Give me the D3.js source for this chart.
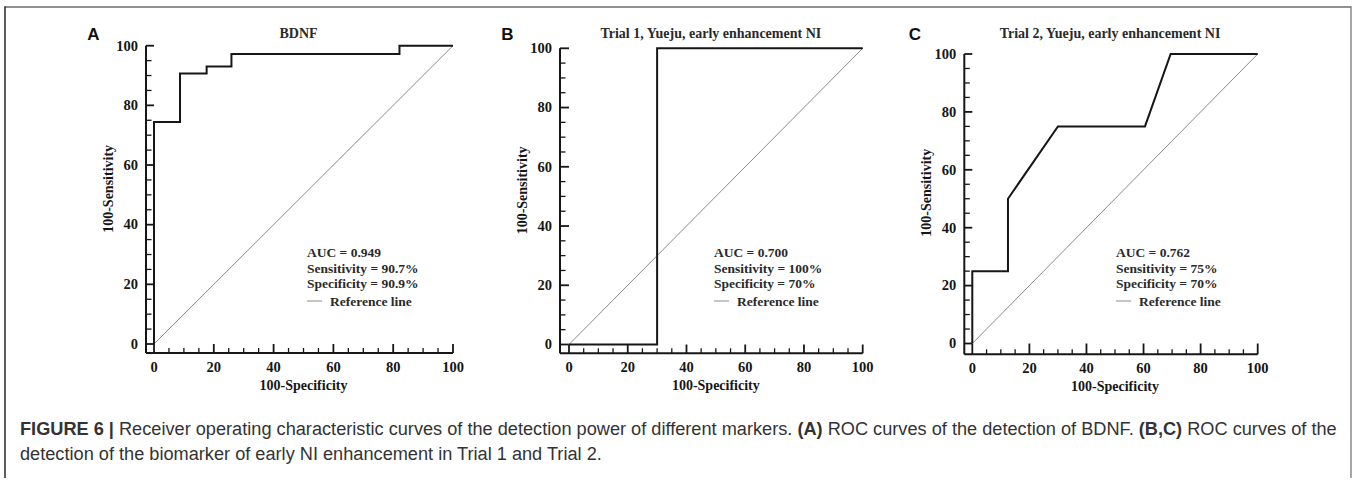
<!DOCTYPE html>
<html><head><meta charset="utf-8">
<script src="https://cdn.jsdelivr.net/npm/d3@7"></script>
<style>
html,body{margin:0;padding:0;background:#fff;}
svg{display:block;}
</style></head>
<body>
<svg id="chart" width="1357" height="484"></svg>
<script>
// ---------- data ----------
const panelLetters = ["A", "B", "C"];
const panelTitles = ["BDNF", "Trial 1, Yueju, early enhancement NI", "Trial 2, Yueju, early enhancement NI"];
const rocA_x = [0, 0, 8.7, 8.7, 17.6, 17.6, 25.9, 25.9, 82.1, 82.1, 100];
const rocA_y = [0, 74.4, 74.4, 90.7, 90.7, 93.0, 93.0, 97.2, 97.2, 100, 100];
const rocB_x = [0, 30, 30, 100];
const rocB_y = [0, 0, 100, 100];
const rocC_x = [0, 0, 12.5, 12.5, 30, 60.5, 69.5, 100];
const rocC_y = [0, 25, 25, 50, 75, 75, 100, 100];
const refLine_x = [0, 100];
const refLine_y = [0, 100];
const majorTicks = [0, 20, 40, 60, 80, 100];
const minorTicks = [0, 5, 10, 15, 20, 25, 30, 35, 40, 45, 50, 55, 60, 65, 70, 75, 80, 85, 90, 95, 100];
const aucLabels = ["AUC = 0.949", "AUC = 0.700", "AUC = 0.762"];
const sensLabels = ["Sensitivity = 90.7%", "Sensitivity = 100%", "Sensitivity = 75%"];
const specLabels = ["Specificity = 90.9%", "Specificity = 70%", "Specificity = 70%"];
const refLabel = "Reference line";
const xTitle = "100-Specificity";
const yTitle = "100-Sensitivity";

// ---------- layout (pixels) ----------
const layout = [
  {axisX: 146, x0: 154, x1: 453, y1: 45.7, y0: 344, axisY: 353, legX: 307},
  {axisX: 560, x0: 569, x1: 862.7, y1: 48.3, y0: 344.5, axisY: 353.3, legX: 714},
  {axisX: 964.3, x0: 972.3, x1: 1257.7, y1: 54, y0: 343.5, axisY: 354.3, legX: 1116}
];
const curves = [[rocA_x, rocA_y], [rocB_x, rocB_y], [rocC_x, rocC_y]];

const svg = d3.select("#chart");
const serif = "'Liberation Serif', 'Times New Roman', serif";
const sans = "'Liberation Sans', Arial, Helvetica, sans-serif";
const ink = "#161616";

// outer frame (no bottom edge)
svg.append("line").attr("x1", 5).attr("y1", 7).attr("x2", 1351).attr("y2", 7).attr("stroke", "#6a6a6a").attr("stroke-width", 1.5);
svg.append("line").attr("x1", 5).attr("y1", 6.3).attr("x2", 5).attr("y2", 478).attr("stroke", "#333").attr("stroke-width", 1.6);
svg.append("line").attr("x1", 1351).attr("y1", 6.3).attr("x2", 1351).attr("y2", 478).attr("stroke", "#777").attr("stroke-width", 1.3);

layout.forEach((L, i) => {
  const g = svg.append("g");
  const x = d3.scaleLinear().domain([0, 100]).range([L.x0, L.x1]);
  const y = d3.scaleLinear().domain([0, 100]).range([L.y0, L.y1]);

  // axis lines
  g.append("line").attr("x1", L.axisX).attr("x2", L.axisX).attr("y1", y(100)).attr("y2", L.axisY)
    .attr("stroke", ink).attr("stroke-width", 2);
  g.append("line").attr("x1", L.axisX).attr("x2", x(100)).attr("y1", L.axisY).attr("y2", L.axisY)
    .attr("stroke", ink).attr("stroke-width", 2);

  // y ticks (pointing right, inside)
  g.selectAll(".ytm").data(minorTicks).join("line")
    .attr("x1", L.axisX).attr("x2", d => L.axisX + (majorTicks.includes(d) ? (L.x0 - L.axisX) : 5.5))
    .attr("y1", d => y(d)).attr("y2", d => y(d))
    .attr("stroke", ink).attr("stroke-width", d => majorTicks.includes(d) ? 1.8 : 1.3);
  // x ticks (pointing up, inside)
  g.selectAll(".xtm").data(minorTicks).join("line")
    .attr("x1", d => x(d)).attr("x2", d => x(d))
    .attr("y1", L.axisY).attr("y2", d => L.axisY - (majorTicks.includes(d) ? (L.axisY - L.y0) : 5))
    .attr("stroke", ink).attr("stroke-width", d => majorTicks.includes(d) ? 1.8 : 1.3);

  // tick labels
  g.selectAll(".ylab").data(majorTicks).join("text")
    .attr("x", L.axisX - 8).attr("y", d => y(d) + 4.8)
    .attr("text-anchor", "end").attr("font-family", serif).attr("font-weight", "bold")
    .attr("font-size", 14.5).attr("fill", ink).text(d => d);
  g.selectAll(".xlab").data(majorTicks).join("text")
    .attr("x", d => x(d)).attr("y", L.axisY + 19)
    .attr("text-anchor", "middle").attr("font-family", serif).attr("font-weight", "bold")
    .attr("font-size", 14.5).attr("fill", ink).text(d => d);

  // axis titles
  g.append("text").attr("x", x(50)).attr("y", L.axisY + 37)
    .attr("text-anchor", "middle").attr("font-family", serif).attr("font-weight", "bold")
    .attr("font-size", 14).attr("fill", ink).text(xTitle);
  const ymid = (y(0) + y(100)) / 2 - 6;
  g.append("text").attr("transform", `translate(${L.axisX - 33},${ymid}) rotate(-90)`)
    .attr("text-anchor", "middle").attr("font-family", serif).attr("font-weight", "bold")
    .attr("font-size", 14).attr("fill", ink).text(yTitle);

  // title
  g.append("text").attr("x", (x(0) + x(100)) / 2 - 5).attr("y", 38)
    .attr("text-anchor", "middle").attr("font-family", serif).attr("font-weight", "bold")
    .attr("font-size", 14).attr("fill", "#2a2a2a").text(panelTitles[i]);

  // reference line
  const line = d3.line().x(d => x(d[0])).y(d => y(d[1]));
  g.append("path").attr("d", line(d3.zip(refLine_x, refLine_y)))
    .attr("fill", "none").attr("stroke", "#8a8a8a").attr("stroke-width", 1);
  // ROC curve
  g.append("path").attr("d", line(d3.zip(curves[i][0], curves[i][1])))
    .attr("fill", "none").attr("stroke", ink).attr("stroke-width", 2).attr("stroke-linejoin", "miter");

  // legend text
  const rows = [aucLabels[i], sensLabels[i], specLabels[i]];
  g.selectAll(".leg").data(rows).join("text")
    .attr("x", L.legX).attr("y", (d, k) => 257 + k * 15.5)
    .attr("font-family", serif).attr("font-weight", "bold").attr("font-size", 13.5)
    .attr("fill", "#2a2a2a").text(d => d);
  g.append("line").attr("x1", L.legX).attr("x2", L.legX + 15).attr("y1", 301).attr("y2", 301)
    .attr("stroke", "#8a8a8a").attr("stroke-width", 1);
  g.append("text").attr("x", L.legX + 23).attr("y", 305.5)
    .attr("font-family", serif).attr("font-weight", "bold").attr("font-size", 13.5)
    .attr("fill", "#2a2a2a").text(refLabel);
});

// panel letters
const letterX = [93.5, 507.5, 915];
svg.selectAll(".pl").data(panelLetters).join("text")
  .attr("x", (d, i) => letterX[i]).attr("y", 40)
  .attr("text-anchor", "middle").attr("font-family", sans).attr("font-weight", "bold")
  .attr("font-size", 17).attr("fill", "#111").text(d => d);

// caption
const capColor = "#333";
const cap1 = svg.append("text").attr("x", 20).attr("y", 435).attr("font-family", sans)
  .attr("font-size", 15).attr("fill", capColor);
cap1.append("tspan").attr("font-weight", "bold").text("FIGURE 6 | ");
cap1.append("tspan").text("Receiver operating characteristic curves of the detection power of different markers. ");
cap1.append("tspan").attr("font-weight", "bold").text("(A)");
cap1.append("tspan").text(" ROC curves of the detection of BDNF. ");
cap1.append("tspan").attr("font-weight", "bold").text("(B,C)");
cap1.append("tspan").text(" ROC curves of the");
const cap2 = svg.append("text").attr("x", 20).attr("y", 460).attr("font-family", sans)
  .attr("font-size", 15).attr("fill", capColor)
  .text("detection of the biomarker of early NI enhancement in Trial 1 and Trial 2.");
// fit caption line 1 to the figure width
const len1 = cap1.node().getComputedTextLength();
const fs = 15 * 1318 / len1;
cap1.attr("font-size", fs);
cap2.attr("font-size", fs);
</script>
</body></html>
